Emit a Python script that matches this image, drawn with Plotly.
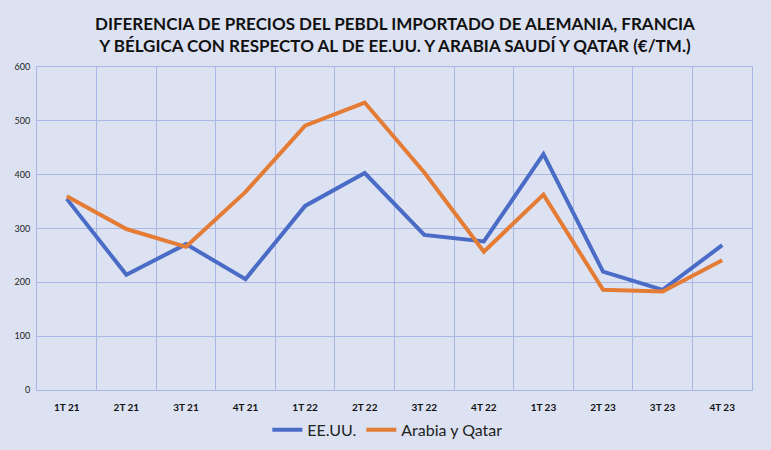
import plotly.graph_objects as go

categories = ["1T 21", "2T 21", "3T 21", "4T 21", "1T 22", "2T 22", "3T 22", "4T 22",
              "1T 23", "2T 23", "3T 23", "4T 23"]
eeuu = [355, 214, 271, 206, 342, 403, 288, 276, 438, 220, 186, 269]
arabia_qatar = [360, 299, 266, 368, 491, 534, 404, 257, 363, 186, 183, 241]
y_ticks = [0, 100, 200, 300, 400, 500, 600]

title = ("DIFERENCIA DE PRECIOS DEL PEBDL IMPORTADO DE ALEMANIA, FRANCIA<br>"
         "Y BÉLGICA CON RESPECTO AL DE EE.UU. Y ARABIA SAUDÍ Y QATAR (€/TM.)")

bg = "#dce2f2"
grid = "#a8b7e6"

fig = go.Figure()
fig.add_trace(go.Scatter(x=categories, y=eeuu, name="EE.UU.", mode="lines",
                         line=dict(color="#4a6cc6", width=4)))
fig.add_trace(go.Scatter(x=categories, y=arabia_qatar, name="Arabia y Qatar", mode="lines",
                         line=dict(color="#e47c35", width=4)))

fig.add_annotation(text=title, xref="paper", yref="paper", x=0.5, y=1, xanchor="center",
                   yanchor="bottom", yshift=9, showarrow=False, align="center",
                   font=dict(family="Lato, sans-serif", size=17, color="#111111", weight="bold"))

fig.update_layout(
    width=771, height=450,
    paper_bgcolor=bg, plot_bgcolor=bg,
    margin=dict(l=37, r=19, t=67, b=60, autoexpand=False),
    font=dict(family="Lato, sans-serif", color="#222222"),
    legend=dict(orientation="h", x=0.49, xanchor="center", yref="container", y=0.045,
                yanchor="middle", font=dict(size=16, color="#222222"),
                bgcolor="rgba(0,0,0,0)"),
    showlegend=True,
)
fig.update_xaxes(type="category", range=[-0.5, 11.5], tickson="boundaries", showgrid=True,
                 gridcolor=grid, gridwidth=1,
                 showline=True, linecolor=grid, linewidth=1, mirror=True, ticks="",
                 tickfont=dict(size=10, family="Lato, sans-serif", color="#111111", weight="bold"),
                 ticklabelstandoff=8)
fig.update_yaxes(range=[0, 600], tickvals=y_ticks, showgrid=True, gridcolor=grid, gridwidth=1,
                 showline=True, linecolor=grid, linewidth=1, mirror=True, ticks="",
                 zeroline=False, tickfont=dict(size=9, color="#222222"), ticklabelstandoff=4)

fig.write_html("out.html", config={"displayModeBar": False},
               post_script="document.body.style.margin='0';document.body.style.overflow='hidden';")
